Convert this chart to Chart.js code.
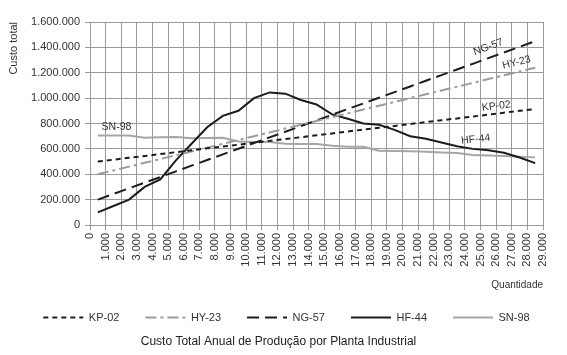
<!DOCTYPE html>
<html><head><meta charset="utf-8">
<script src="https://cdn.jsdelivr.net/npm/chart.js@4"></script>
<style>html,body{margin:0;padding:0;background:#fff;overflow:hidden;}</style>
</head><body>
<canvas id="c" width="567" height="355"></canvas>
<script>
const seriesNames = ['KP-02', 'HY-23', 'NG-57', 'HF-44', 'SN-98'];
const quantities = [500, 1500, 2500, 3500, 4500, 5500, 6500, 7500, 8500, 9500, 10500, 11500, 12500, 13500, 14500,
  15500, 16500, 17500, 18500, 19500, 20500, 21500, 22500, 23500, 24500, 25500, 26500, 27500, 28500];
const kp02 = [500000, 515000, 530000, 544000, 559000, 574000, 589000, 604000, 618000, 633000, 648000, 663000, 678000, 692000, 707000,
  722000, 737000, 752000, 766000, 781000, 796000, 811000, 826000, 840000, 855000, 870000, 885000, 900000, 914000];
const hy23 = [400000, 430000, 460000, 490000, 520000, 550000, 580000, 610000, 640000, 670000, 700000, 730000, 760000, 790000, 820000,
  850000, 880000, 910000, 940000, 970000, 1000000, 1030000, 1060000, 1090000, 1120000, 1150000, 1180000, 1210000, 1240000];
const ng57 = [200000, 245000, 289000, 334000, 378000, 423000, 468000, 512000, 557000, 601000, 646000, 691000, 735000, 780000, 824000,
  869000, 914000, 958000, 1003000, 1047000, 1092000, 1137000, 1181000, 1226000, 1270000, 1315000, 1360000, 1404000, 1449000];
const hf44 = [100000, 150000, 200000, 300000, 360000, 510000, 640000, 770000, 860000, 900000, 1000000, 1045000, 1035000, 985000, 950000,
  872000, 838000, 800000, 790000, 750000, 700000, 680000, 650000, 620000, 600000, 590000, 570000, 532000, 488000];
const sn98 = [705000, 705000, 705000, 688000, 692000, 694000, 684000, 686000, 688000, 658000, 655000, 655000, 640000, 638000, 638000,
  625000, 617000, 617000, 585000, 583000, 582000, 577000, 572000, 568000, 551000, 548000, 543000, 538000, 533000];
const xTickLabels = ['0', '1.000', '2.000', '3.000', '4.000', '5.000', '6.000', '7.000', '8.000', '9.000', '10.000',
  '11.000', '12.000', '13.000', '14.000', '15.000', '16.000', '17.000', '18.000', '19.000', '20.000',
  '21.000', '22.000', '23.000', '24.000', '25.000', '26.000', '27.000', '28.000', '29.000'];
const yTickLabels = ['0', '200.000', '400.000', '600.000', '800.000', '1.000.000', '1.200.000', '1.400.000', '1.600.000'];
const chartTitle = 'Custo Total Anual de Produção por Planta Industrial';
const xTitle = 'Quantidade';
const yTitle = 'Custo total';

const FONT = '"Liberation Sans", Arial, sans-serif';
const TXT = '#333333';
const GRID = '#999999';

function pts(vals) { return quantities.map((q, i) => ({ x: q, y: vals[i] })); }

const styles = [
  { color: '#1c1c1c', dash: [5, 4] },
  { color: '#9c9c9c', dash: [11, 4, 3, 4] },
  { color: '#1c1c1c', dash: [12, 6] },
  { color: '#1c1c1c', dash: [] },
  { color: '#a6a6a6', dash: [] }
];
const allVals = [kp02, hy23, ng57, hf44, sn98];

// in-chart series labels: [dataset, point, dx, dy, angle]
const inLabels = [
  [2, 25, 0, -11, -20],
  [1, 27, -3, -9, -14],
  [0, 25, 8, -8.5, -7],
  [3, 24, 3, -9.5, -6],
  [4, 1, 3, -8.5, 0]
];

const seriesLabelPlugin = {
  id: 'seriesLabels',
  afterDatasetsDraw(chart) {
    const ctx = chart.ctx;
    ctx.save();
    ctx.font = '10.5px ' + FONT;
    ctx.fillStyle = TXT;
    ctx.textAlign = 'center';
    ctx.textBaseline = 'middle';
    inLabels.forEach(([d, p, dx, dy, ang]) => {
      const el = chart.getDatasetMeta(d).data[p];
      ctx.save();
      ctx.translate(el.x + dx, el.y + dy);
      ctx.rotate(ang * Math.PI / 180);
      ctx.fillText(seriesNames[d], 0, 0);
      ctx.restore();
    });
    ctx.restore();
  }
};

const shiftPlugin = {
  id: 'boxShift',
  afterLayout(chart) {
    const lg = chart.legend;
    if (lg) { lg.left += 15; lg.right += 15; lg.top -= 1; lg.bottom -= 1; }
    const t = chart.titleBlock;
    if (t) { t.left += 7; t.right += 7; }
  }
};

new Chart(document.getElementById('c'), {
  type: 'line',
  data: {
    datasets: allVals.map((v, i) => ({
      label: seriesNames[i],
      data: pts(v),
      borderColor: styles[i].color,
      backgroundColor: styles[i].color,
      borderDash: styles[i].dash,
      borderWidth: 2,
      pointRadius: 0,
      tension: 0,
      fill: false
    }))
  },
  options: {
    responsive: false,
    animation: false,
    devicePixelRatio: 1,
    layout: { padding: { left: 0, right: 24, top: 22, bottom: 6.6 } },
    scales: {
      x: {
        type: 'linear',
        min: 0, max: 29000,
        afterFit(s) { s.height = 62; },
        grid: { color: GRID, lineWidth: 1, drawTicks: true, tickLength: 5, tickColor: GRID },
        border: { color: GRID, width: 1 },
        ticks: {
          stepSize: 1000, autoSkip: false, minRotation: 90, maxRotation: 90, padding: 3,
          color: TXT, font: { family: FONT, size: 11 },
          callback: (v, i) => xTickLabels[i]
        },
        title: { display: true, text: xTitle, align: 'end', color: TXT,
          font: { family: FONT, size: 10 }, padding: { top: 0, bottom: -4 } }
      },
      y: {
        min: 0, max: 1600000,
        afterFit(s) { s.width = 90; },
        grid: { color: GRID, lineWidth: 1, drawTicks: true, tickLength: 5, tickColor: GRID },
        border: { color: GRID, width: 1 },
        ticks: {
          stepSize: 200000, color: TXT, padding: 5, font: { family: FONT, size: 11 },
          callback: (v, i) => yTickLabels[i]
        },
        title: { display: true, text: yTitle, align: 'end', color: TXT,
          font: { family: FONT, size: 11 }, padding: { top: 7.4, bottom: 0 } }
      }
    },
    plugins: {
      legend: {
        position: 'bottom',
        labels: {
          usePointStyle: true, pointStyle: 'line', pointStyleWidth: 40,
          padding: 26, color: TXT, font: { family: FONT, size: 11 },
          generateLabels(chart) {
            return chart.data.datasets.map((ds, i) => ({
              text: ds.label, fillStyle: ds.borderColor, strokeStyle: ds.borderColor,
              lineWidth: 2, lineDash: ds.borderDash, pointStyle: 'line', hidden: false,
              datasetIndex: i, fontColor: TXT
            }));
          }
        }
      },
      title: {
        display: true, text: chartTitle, position: 'bottom', color: '#222222',
        font: { family: FONT, size: 12, weight: 'normal' }, padding: { top: 0, bottom: 0 }
      },
      tooltip: { enabled: false }
    }
  },
  plugins: [seriesLabelPlugin, shiftPlugin]
});
</script>
</body></html>
